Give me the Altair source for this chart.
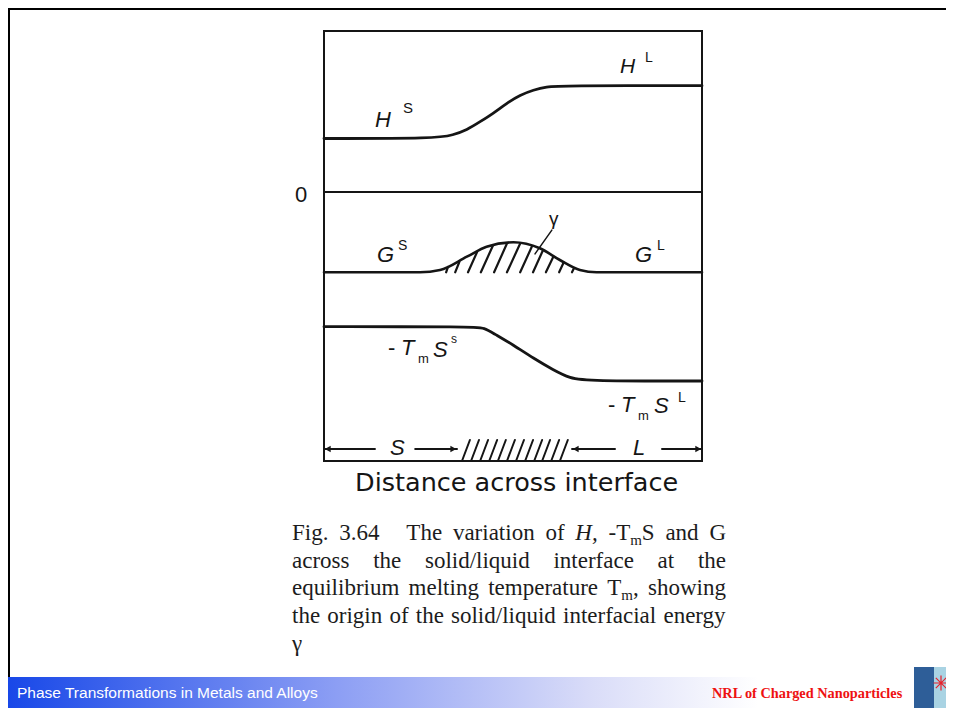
import altair as alt
import pandas as pd

# ---------------- figure data ----------------
# distance across interface: 0 (left of box) .. 100 (right of box)
# energy in arbitrary units, zero line at 0
X_MIN, X_MAX = 0, 100
Y_MIN, Y_MAX = -26.9, 16.1

H_x = [0, 29.9, 34.1, 37.8, 41.3, 44.8, 48.3, 51.9, 55.4, 58.9, 62.4, 100]
H_y = [5.35, 5.35, 5.7, 6.2, 7.03, 7.87, 8.87, 9.7, 10.2, 10.53, 10.63, 10.63]

G_x = [0, 25.4, 30.7, 37.8, 43.0, 50.1, 57.1, 62.4, 67.7, 72.1, 100]
G_y = [-8.03, -8.03, -7.8, -6.47, -5.47, -5.03, -5.63, -6.8, -7.8, -8.03, -8.03]

TS_x = [0, 39.5, 42.5, 44.8, 50.1, 55.4, 60.7, 65.1, 69.5, 100]
TS_y = [-13.47, -13.47, -13.6, -14.13, -15.3, -16.63, -17.8, -18.63, -18.9, -18.9]

ZERO_x = [0, 100]
ZERO_y = [0, 0]

# hatching under the G bump (interfacial energy gamma)
BUMP_BASE = -8.03
bump_x0 = [32.3, 34.7, 38.1, 41.5, 45.0, 48.4, 51.9, 55.3, 58.7, 62.2, 65.6]
bump_x1 = [32.8, 35.8, 40.5, 44.7, 48.4, 51.9, 55.0, 57.9, 60.7, 63.4, 66.1]
bump_y1 = [-7.5, -7.0, -6.0, -5.35, -5.15, -5.15, -5.45, -5.85, -6.45, -7.05, -7.65]

# hatched interface region on the S / L bar
HATCH_Y0, HATCH_Y1 = -26.9, -24.8
hatch_x0 = [36.5, 38.9, 41.3, 43.7, 46.0, 48.4, 50.8, 53.2, 55.6, 57.7, 60.1, 62.4]
hatch_x1 = [38.6, 41.0, 43.4, 45.8, 48.1, 50.5, 52.9, 55.3, 57.7, 59.8, 62.2, 64.5]

# S <-> L arrows
ARROW_Y = -25.7
arrow_x0 = [0, 24.1, 65.6, 89.4]
arrow_x1 = [13.5, 35.2, 77.0, 100]
head_x = [1.0, 34.2, 66.6, 99.0]
head_shape = ["triangle-left", "triangle-right", "triangle-left", "triangle-right"]

# gamma leader line
lead_x0, lead_y0, lead_x1, lead_y1 = [60.3], [-3.8], [55.8], [-6.2]

# caption text: each line is a list of words, each word a list of (text, kind)
# kind: "n" normal, "i" italic, "sub" subscript
CAPTION_LINES = [
    [[("Fig.", "n")], [("3.64", "n")], [("The", "n")], [("variation", "n")], [("of", "n")],
     [("H,", "i")], [("-T", "n"), ("m", "sub"), ("S", "n")], [("and", "n")], [("G", "n")]],
    [[("across", "n")], [("the", "n")], [("solid/liquid", "n")], [("interface", "n")],
     [("at", "n")], [("the", "n")]],
    [[("equilibrium", "n")], [("melting", "n")], [("temperature", "n")],
     [("T", "n"), ("m", "sub"), (",", "n")], [("showing", "n")]],
    [[("the", "n")], [("origin", "n")], [("of", "n")], [("the", "n")], [("solid/liquid", "n")],
     [("interfacial", "n")], [("energy", "n")]],
    [[("γ", "n")]],
]
CAPTION_GAP_WEIGHT = [[1, 2.5, 1, 1, 1, 1, 1, 1], [1] * 5, [1] * 4, [1] * 6, []]

# ---------------- scales ----------------
XS = alt.Scale(domain=[X_MIN, X_MAX], range=[316, 694], nice=False, zero=False)
YS = alt.Scale(domain=[Y_MIN, Y_MAX], range=[453, 23], nice=False, zero=False)
INK = "#151515"

steps = pd.DataFrame({
    "x": H_x + TS_x,
    "y": H_y + TS_y,
    "series": ["H"] * len(H_x) + ["TS"] * len(TS_x),
})
flat = pd.DataFrame({
    "x": G_x + ZERO_x,
    "y": G_y + ZERO_y,
    "series": ["G"] * len(G_x) + ["zero"] * len(ZERO_x),
    "w": [2.6] * len(G_x) + [2.0] * len(ZERO_x),
})

box = pd.DataFrame({"x0": [X_MIN], "x1": [X_MAX], "y0": [Y_MIN], "y1": [Y_MAX]})

segs = pd.DataFrame({
    "x0": bump_x0 + hatch_x0 + arrow_x0 + lead_x0,
    "x1": bump_x1 + hatch_x1 + arrow_x1 + lead_x1,
    "y0": [BUMP_BASE] * len(bump_x0) + [HATCH_Y0] * len(hatch_x0) + [ARROW_Y] * len(arrow_x0) + lead_y0,
    "y1": bump_y1 + [HATCH_Y1] * len(hatch_x0) + [ARROW_Y] * len(arrow_x0) + lead_y1,
    "w": [2.2] * len(bump_x0) + [2.0] * len(hatch_x0) + [1.8] * len(arrow_x0) + [1.3],
})

heads = pd.DataFrame({"x": head_x, "y": [ARROW_Y] * 4, "shape": head_shape})

box_layer = alt.Chart(box).mark_rect(fillOpacity=0, stroke=INK, strokeWidth=2).encode(
    x=alt.X("x0:Q", scale=XS, axis=None), x2="x1:Q",
    y=alt.Y("y0:Q", scale=YS, axis=None), y2="y1:Q")

step_layer = alt.Chart(steps).mark_line(interpolate="basis", color=INK, strokeWidth=2.8,
                                        strokeCap="round").encode(
    x=alt.X("x:Q", scale=XS, axis=None),
    y=alt.Y("y:Q", scale=YS, axis=None),
    detail="series:N", order="x:Q")

flat_layer = alt.Chart(flat).mark_line(interpolate="monotone", color=INK, strokeCap="round").encode(
    x=alt.X("x:Q", scale=XS, axis=None),
    y=alt.Y("y:Q", scale=YS, axis=None),
    detail="series:N",
    strokeWidth=alt.StrokeWidth("w:Q", scale=None),
    order="x:Q")

seg_layer = alt.Chart(segs).mark_rule(color=INK, strokeCap="round").encode(
    x=alt.X("x0:Q", scale=XS, axis=None), x2="x1:Q",
    y=alt.Y("y0:Q", scale=YS, axis=None), y2="y1:Q",
    strokeWidth=alt.StrokeWidth("w:Q", scale=None))

head_layer = alt.Chart(heads).mark_point(filled=True, color=INK, size=45, opacity=1).encode(
    x=alt.X("x:Q", scale=XS, axis=None),
    y=alt.Y("y:Q", scale=YS, axis=None),
    shape=alt.Shape("shape:N", scale=None))

# ---------------- text (pixel positions of annotations) ----------------
def tl(rows, font, style="normal", weight="normal", color=INK):
    df = pd.DataFrame(rows, columns=["t", "px", "py", "size"])
    return alt.Chart(df).mark_text(align="left", baseline="alphabetic", font=font,
                                   fontStyle=style, fontWeight=weight, color=color).encode(
        x=alt.X("px:Q", scale=None), y=alt.Y("py:Q", scale=None),
        text="t:N", size=alt.Size("size:Q", scale=None))

SANS = "Liberation Sans"
fig_italic = tl([
    ["H", 367, 119, 22], ["H", 612, 65, 21],
    ["G", 369, 254, 22], ["G", 627, 254, 22],
    ["T", 393, 347, 22], ["S", 425, 349, 22],
    ["T", 613, 404, 22], ["S", 646, 405, 22],
    ["S", 382, 447, 22], ["L", 625, 447, 22],
], SANS, style="italic")
fig_upright = tl([
    ["S", 395, 105, 15], ["L", 637, 54, 14],
    ["0", 287, 194, 22], ["γ", 541, 217, 19],
    ["S", 390, 242, 14], ["L", 649, 242, 14],
    ["-", 380, 347, 22], ["m", 410, 355, 13], ["s", 443, 335, 12],
    ["-", 600, 404, 22], ["m", 630, 412, 13], ["L", 670, 394, 14],
], SANS)
fig_title = tl([["Distance across interface", 347, 483, 25.5]], "DejaVu Sans")

# ---- justified caption (Times / Liberation Serif advance widths, 1/1000 em) ----
TIMES_W = {" ": 250, ",": 250, "-": 333, ".": 250, "/": 278, "F": 556, "G": 722, "H": 722,
           "S": 556, "T": 611, "a": 444, "b": 500, "c": 444, "d": 500, "e": 444, "f": 333,
           "g": 500, "h": 500, "i": 278, "l": 278, "m": 778, "n": 500, "o": 500, "p": 500,
           "q": 500, "r": 333, "s": 389, "t": 278, "u": 500, "v": 500, "w": 722, "y": 500,
           "γ": 411}
for d in "0123456789":
    TIMES_W[d] = 500

SERIF = "Liberation Serif"
CAP = "#1c1c1c"
FS, FS_SUB = 23, 15
CAP_LEFT, CAP_RIGHT = 284, 718          # chart px (page 292..726)
CAP_BASE, CAP_LEAD = 532, 27.7


def piece_w(text, kind):
    size = FS_SUB if kind == "sub" else FS
    return sum(TIMES_W.get(c, 500) for c in text) * size / 1000.0


cap_norm, cap_it = [], []
for li, (words, weights) in enumerate(zip(CAPTION_LINES, CAPTION_GAP_WEIGHT)):
    base = CAP_BASE + li * CAP_LEAD
    widths = [sum(piece_w(t, k) for t, k in w) for w in words]
    gap = (CAP_RIGHT - CAP_LEFT - sum(widths)) / sum(weights) if weights else 0
    x = CAP_LEFT
    for wi, word in enumerate(words):
        px = x
        for t, k in word:
            size = FS_SUB if k == "sub" else FS
            py = base + 5 if k == "sub" else base
            (cap_it if k == "i" else cap_norm).append([t, px, py, size])
            px += piece_w(t, k)
        x += widths[wi] + (gap * weights[wi] if wi < len(weights) else 0)

caption = tl(cap_norm, SERIF, color=CAP)
caption_it = tl(cap_it, SERIF, style="italic", color=CAP)

# ---------------- slide decorations ----------------
one = pd.DataFrame({"a": [0]})
frame = pd.DataFrame({"x0": [0, 0], "x1": [938, 2], "y0": [0, 0], "y1": [2, 704]})
frame_layer = alt.Chart(frame).mark_rect(color="#000000").encode(
    x=alt.X("x0:Q", scale=None), x2="x1:Q", y=alt.Y("y0:Q", scale=None), y2="y1:Q")

bar = alt.Chart(one).mark_rect(
    color=alt.Gradient(gradient="linear", x1=0, x2=1, y1=0, y2=0, stops=[
        alt.GradientStop(offset=0.0, color="#1848e8"),
        alt.GradientStop(offset=0.35, color="#8c9ef4"),
        alt.GradientStop(offset=0.62, color="#d9dcf8"),
        alt.GradientStop(offset=0.8, color="#ffffff"),
        alt.GradientStop(offset=1.0, color="#ffffff")])
).encode(x=alt.value(0), x2=alt.value(938), y=alt.value(669), y2=alt.value(700))

footer_l = tl([["Phase Transformations in Metals and Alloys", 9, 690, 15.5]],
              "Liberation Sans", color="#ffffff")
footer_r = tl([["NRL of Charged Nanoparticles", 704, 690, 14.3]], SERIF, weight="bold", color="#ee1111")

logo = pd.DataFrame({"x0": [906, 926, 908], "x1": [926, 938, 928], "y0": [659, 659, 704],
                     "y1": [704, 704, 710], "c": ["#2e5e98", "#a9d3e3", "#333333"]})
logo_layer = alt.Chart(logo).mark_rect().encode(
    x=alt.X("x0:Q", scale=None), x2="x1:Q", y=alt.Y("y0:Q", scale=None), y2="y1:Q",
    color=alt.Color("c:N", scale=None))
star = alt.Chart(one).mark_point(
    shape="M-1,0L1,0M0,-1L0,1M-0.7,-0.7L0.7,0.7M-0.7,0.7L0.7,-0.7",
    filled=False, color="#e8202a", size=220, strokeWidth=1.2, opacity=1
).encode(x=alt.value(933), y=alt.value(675))

chart = alt.layer(
    frame_layer, bar, logo_layer, star, footer_l, footer_r,
    box_layer, step_layer, flat_layer, seg_layer, head_layer,
    fig_italic, fig_upright, fig_title, caption, caption_it,
).resolve_scale(x="independent", y="independent").properties(
    width=938, height=700, padding=0, autosize="none", background="#ffffff"
).configure_view(stroke=None)

chart.save("out.html", embed_options={"renderer": "svg", "actions": False})
